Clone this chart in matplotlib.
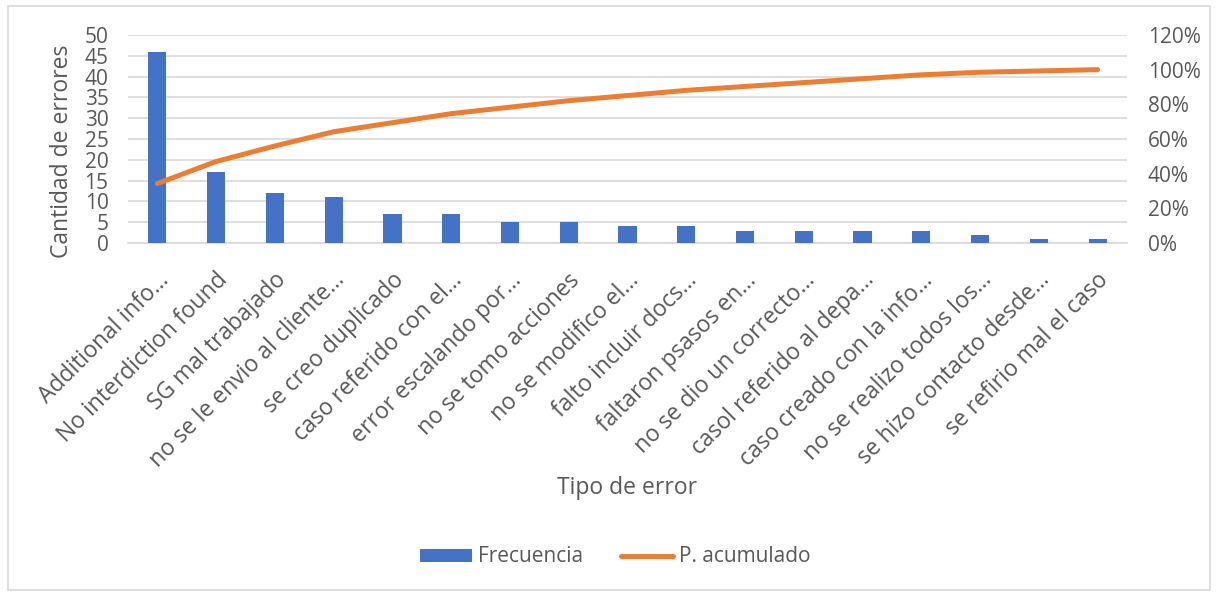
import numpy as np
import matplotlib.pyplot as plt
import matplotlib.transforms as mtransforms
from matplotlib.patches import Rectangle
from matplotlib.ticker import PercentFormatter

plt.rcParams['font.family'] = ['Open Sans', 'DejaVu Sans']

tipos = ["Additional info…", "No interdiction found", "SG mal trabajado",
         "no se le envio al cliente…", "se creo duplicado", "caso referido con el…",
         "error escalando por…", "no se tomo acciones", "no se modifico el…",
         "falto incluir docs…", "faltaron psasos en…", "no se dio un correcto…",
         "casol referido al depa…", "caso creado con la info…", "no se realizo todos los…",
         "se hizo contacto desde…", "se refirio mal el caso"]
frecuencia = [46, 17, 12, 11, 7, 7, 5, 5, 4, 4, 3, 3, 3, 3, 2, 1, 1]

# porcentaje acumulado (pareto)
acumulado = np.cumsum(frecuencia) / np.sum(frecuencia)

gris = '#595959'
fig = plt.figure(figsize=(12.17, 5.92), dpi=100)
ax = fig.add_axes([128/1217, 1-243/592, (1127-128)/1217, (243-35)/592])
ax2 = ax.twinx()

x = np.arange(len(tipos))
b = ax.bar(x, frecuencia, width=0.31, color='#4472C4', zorder=3, label='Frecuencia')
l, = ax2.plot(x, acumulado, color='#ED7D31', lw=3.6, solid_capstyle='round',
              zorder=4, label='P. acumulado')

ax.set_xlim(-0.5, len(tipos) - 0.5)
ax.set_ylim(0, 50)
ax.set_yticks(range(0, 51, 5))
ax2.set_ylim(0, 1.2)
ax2.set_yticks(np.arange(0, 1.21, 0.2))
ax2.yaxis.set_major_formatter(PercentFormatter(1.0, decimals=0))
ax.grid(axis='y', color='#D9D9D9', lw=1.2, zorder=0)
ax.set_axisbelow(True)

for a in (ax, ax2):
    for s in a.spines.values():
        s.set_visible(False)
    a.tick_params(length=0, labelsize=15, labelcolor=gris)
ax.spines['bottom'].set_visible(True)
ax.spines['bottom'].set_color('#D9D9D9')
ax.spines['bottom'].set_linewidth(1.2)
ax.tick_params(axis='y', pad=14)
ax2.tick_params(axis='y', pad=15)

ax.set_xticks(x)
ax.tick_params(axis='x', pad=0)
ax.set_xticklabels(tipos, rotation=45, ha='right', va='baseline',
                   rotation_mode='anchor', fontsize=16.5, color=gris)
shift = mtransforms.ScaledTranslation(12/100, -38/100, fig.dpi_scale_trans)
for t in ax.get_xticklabels():
    t.set_transform(t.get_transform() + shift)

fig.text(62/1217, 1-151/592, 'Cantidad de errores', rotation=90, ha='center',
         va='center', fontsize=16.5, color=gris)
fig.text(627/1217, 1-488/592, 'Tipo de error', ha='center', va='center',
         fontsize=16.5, color=gris)

fig.legend(handles=[b, l], loc='center', bbox_to_anchor=(615/1217, 1-557/592),
           ncol=2, frameon=False, fontsize=15, labelcolor=gris,
           handlelength=2.5, handletextpad=0.3, columnspacing=1.8, handleheight=0.6)

fig.patches.append(Rectangle((8/1217, 2/592), 1202/1217, 584/592,
                             transform=fig.transFigure, fill=False,
                             edgecolor='#D9D9D9', lw=1.2))

fig.savefig('out.png', dpi=100)
